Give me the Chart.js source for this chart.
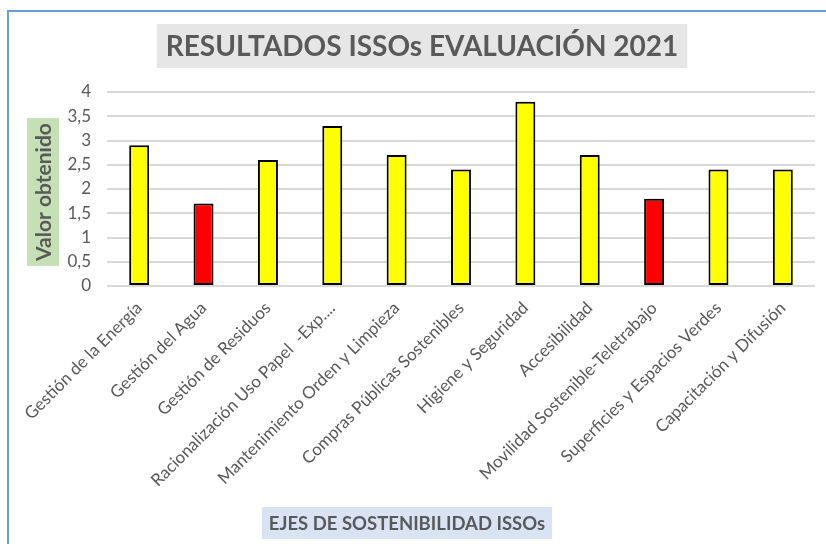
<!DOCTYPE html>
<html lang="es">
<head>
<meta charset="utf-8">
<title>Resultados ISSOs Evaluación 2021</title>
<script src="https://cdn.jsdelivr.net/npm/chart.js@4.4.1/dist/chart.umd.min.js"></script>
<style>
    html, body { margin: 0; padding: 0; background: #ffffff; overflow: hidden; }
    #marco {
        position: absolute; left: 7px; top: 10px; width: 900px; height: 600px;
        border: 2px solid #6a9fd6; box-sizing: border-box;
    }
    #lienzo { position: absolute; left: 0; top: 0; width: 826px; height: 544px; }
</style>
</head>
<body>
<div id="marco"></div>
<div id="lienzo"><canvas id="graficoIssos" width="826" height="544"></canvas></div>
<script>
// Datos del gráfico
const ejes = [
    'Gestión de la Energía',
    'Gestión del Agua',
    'Gestión de Residuos',
    'Racionalización Uso Papel  -Exp....',
    'Mantenimiento Orden y Limpieza',
    'Compras Públicas Sostenibles',
    'Higiene y Seguridad',
    'Accesibilidad',
    'Movilidad Sostenible-Teletrabajo',
    'Superficies y Espacios Verdes',
    'Capacitación y Difusión'
];
const valores = [2.9, 1.7, 2.6, 3.3, 2.7, 2.4, 3.8, 2.7, 1.8, 2.4, 2.4];
const marcasY = [0, 0.5, 1, 1.5, 2, 2.5, 3, 3.5, 4];

const tituloGrafico = 'RESULTADOS ISSOs EVALUACIÓN 2021';
const tituloEjeY = 'Valor obtenido';
const tituloEjeX = 'EJES DE SOSTENIBILIDAD ISSOs';

const AMARILLO = '#ffff00';
const ROJO = '#ff0000';
const coloresBarras = [AMARILLO, ROJO, AMARILLO, AMARILLO, AMARILLO, AMARILLO, AMARILLO, AMARILLO, ROJO, AMARILLO, AMARILLO];

const GRIS_TEXTO = '#595959';
const FUENTE = 'Lato, "Open Sans", sans-serif';

// Titulos con fondo de color (como en Excel)
function cajaTexto(ctx, texto, cx, cy, fuente, fondo, padX, alto, rotar) {
    ctx.save();
    ctx.font = fuente;
    const ancho = ctx.measureText(texto).width + padX * 2;
    ctx.translate(cx, cy);
    if (rotar) ctx.rotate(-Math.PI / 2);
    ctx.fillStyle = fondo;
    ctx.fillRect(-ancho / 2, -alto / 2, ancho, alto);
    ctx.fillStyle = GRIS_TEXTO;
    ctx.textAlign = 'center';
    ctx.textBaseline = 'middle';
    ctx.fillText(texto, 0, 1);
    ctx.restore();
}

const pluginTitulos = {
    id: 'titulosConFondo',
    afterDraw(chart) {
        const ctx = chart.ctx;
        cajaTexto(ctx, tituloGrafico, 422, 46, 'bold 28px ' + FUENTE, '#e7e6e6', 9, 44, false);
        cajaTexto(ctx, tituloEjeY, 43, 192, 'bold 21px ' + FUENTE, '#c5e0b4', 5, 32, true);
        cajaTexto(ctx, tituloEjeX, 407, 523, 'bold 18.5px ' + FUENTE, '#dae3f3', 7, 32, false);
    }
};

const ctx = document.getElementById('graficoIssos').getContext('2d');
const chart = new Chart(ctx, {
    type: 'bar',
    data: {
        labels: ejes,
        datasets: [{
            label: 'Valor obtenido',
            data: valores,
            backgroundColor: coloresBarras,
            borderColor: '#000000',
            borderWidth: 2,
            borderSkipped: false,
            barPercentage: 0.31,
            categoryPercentage: 1.0
        }]
    },
    options: {
        responsive: false,
        animation: false,
        layout: { padding: { top: 92, right: 11, left: 0, bottom: 0 } },
        plugins: {
            legend: { display: false },
            title: { display: false },
            tooltip: { enabled: false }
        },
        scales: {
            x: {
                grid: { display: false },
                border: { display: false },
                ticks: {
                    color: GRIS_TEXTO,
                    font: { family: FUENTE, size: 17 },
                    minRotation: 45,
                    maxRotation: 45,
                    autoSkip: false,
                    padding: 4
                },
                afterFit(scale) { scale.height = 544 - 286; }
            },
            y: {
                min: 0,
                max: 4,
                afterBuildTicks(scale) { scale.ticks = marcasY.map(v => ({ value: v })); },
                grid: { color: '#d9d9d9', lineWidth: 2, drawTicks: false },
                border: { display: false },
                ticks: {
                    color: GRIS_TEXTO,
                    font: { family: FUENTE, size: 17 },
                    padding: 16,
                    callback: v => String(v).replace('.', ',')
                },
                afterFit(scale) { scale.width = 107; }
            }
        }
    },
    plugins: [pluginTitulos]
});
</script>
</body>
</html>
